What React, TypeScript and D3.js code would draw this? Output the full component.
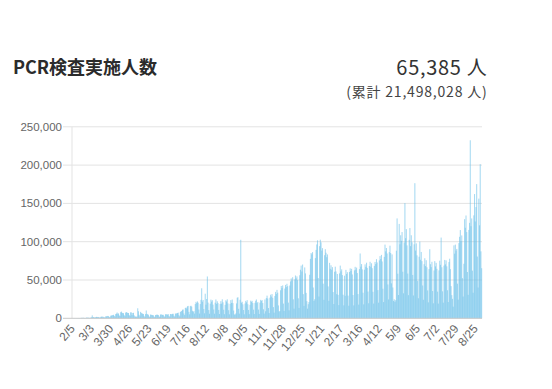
import React from "react";
import * as d3 from "d3";

// daily PCR tests, in thousands of people
const feb2020 = [0.1, 0.1, 0.2, 0.1, 0.1, 0.2, 0.2, 0.3, 0.2, 0.4, 0.3, 0.2, 0.5, 0.6, 0.5, 0.7, 0.6, 0.4, 0.3, 0.5, 0.9, 0.8, 0.9, 0.7, 0.5];
const mar2020 = [0.6, 0.9, 1.2, 3.8, 1.6, 1.5, 1.0, 0.8, 1.7, 1.9, 1.6, 1.8, 1.5, 1.0, 0.8, 1.9, 2.1, 2.0, 2.2, 1.4, 1.2, 1.1, 2.6, 2.4, 2.8, 3.1, 2.7, 1.5, 1.3, 3.4, 3.6];
const apr2020 = [3.9, 4.2, 4.6, 3.1, 2.2, 5.5, 6.1, 7.6, 5.9, 6.4, 3.8, 2.9, 7.9, 8.8, 7.2, 6.8, 6.6, 4.1, 2.8, 7.4, 8.1, 7.5, 7.0, 6.9, 4.4, 3.0, 7.8, 7.6, 4.2, 6.9];
const may2020 = [7.2, 3.9, 2.4, 2.2, 2.0, 2.3, 13.1, 9.2, 4.6, 2.5, 8.4, 7.1, 6.3, 6.0, 5.6, 3.2, 1.8, 5.5, 10.2, 5.8, 5.1, 4.6, 2.6, 1.6, 4.9, 4.6, 4.4, 4.1, 3.9, 2.3, 1.5];
const jun2020 = [4.2, 4.5, 4.8, 4.6, 4.3, 2.6, 1.7, 4.9, 5.1, 4.7, 4.4, 4.6, 2.8, 1.9, 5.2, 5.3, 5.0, 4.8, 5.4, 3.1, 2.0, 5.6, 5.5, 5.1, 5.8, 5.9, 3.4, 2.2, 6.1, 6.3];
const jul2020 = [6.5, 6.8, 7.4, 4.1, 2.6, 8.2, 9.1, 9.6, 11.2, 11.5, 6.3, 4.2, 13.4, 14.1, 12.8, 15.6, 16.2, 8.4, 5.2, 15.8, 16.4, 15.2, 9.8, 8.1, 9.5, 6.1, 18.6, 21.5, 19.8, 22.1, 20.4];
const aug2020 = [11.4, 6.2, 18.6, 24.1, 39.2, 21.8, 23.9, 12.1, 6.5, 32.1, 17.8, 25.2, 54.6, 20.5, 10.8, 5.9, 19.1, 24.4, 21.8, 23.6, 17.9, 11.5, 6.0, 20.4, 24.6, 18.9, 22.2, 19.8, 10.9, 5.6, 18.7];
const sep2020 = [22.4, 19.1, 24.8, 20.9, 11.2, 5.4, 17.6, 23.5, 21.9, 24.8, 19.4, 10.6, 5.2, 18.9, 23.7, 20.1, 24.5, 19.8, 10.1, 5.0, 4.8, 6.3, 19.4, 26.8, 27.5, 12.4, 6.1, 24.2, 102.5, 20.3];
const oct2020 = [21.6, 18.2, 10.8, 5.3, 19.3, 22.8, 20.9, 23.7, 18.4, 10.9, 5.4, 17.6, 23.1, 21.4, 22.8, 19.9, 11.3, 5.6, 20.2, 22.9, 24.6, 19.8, 21.3, 11.4, 5.7, 20.4, 24.1, 22.6, 23.8, 19.9, 11.8];
const nov2020 = [6.1, 24.6, 9.2, 26.4, 29.6, 25.9, 13.4, 6.8, 26.9, 30.8, 28.4, 31.6, 26.7, 14.6, 7.4, 29.2, 34.5, 31.8, 37.1, 33.4, 16.8, 8.9, 9.4, 36.6, 42.2, 39.4, 42.9, 19.2, 9.6, 38.8];
const dec2020 = [43.6, 40.8, 45.1, 41.9, 20.5, 10.4, 42.8, 48.2, 52.1, 49.4, 53.6, 24.8, 12.6, 50.8, 55.9, 52.2, 54.7, 49.8, 26.1, 13.5, 56.2, 63.4, 68.8, 61.1, 70.2, 31.5, 16.2, 66.4, 58.6, 33.2, 22.4];
const jan2021 = [12.6, 18.4, 21.2, 56.8, 77.6, 85.2, 83.5, 86.4, 40.2, 22.6, 24.8, 78.6, 89.3, 96.4, 101.8, 52.6, 28.4, 94.2, 102.6, 99.2, 88.4, 91.6, 45.2, 24.1, 82.4, 90.2, 85.6, 79.8, 83.4, 41.6, 22.8];
const feb2021 = [72.4, 64.6, 69.2, 63.4, 66.8, 34.2, 18.6, 60.8, 67.4, 61.2, 31.5, 57.9, 30.6, 17.2, 58.6, 68.8, 61.2, 63.9, 56.4, 30.8, 16.9, 55.6, 29.4, 63.2, 57.8, 60.2, 29.6, 16.4];
const mar2021 = [60.4, 65.2, 61.8, 64.6, 57.2, 30.4, 16.8, 62.6, 67.2, 63.4, 66.2, 59.1, 31.6, 17.8, 64.2, 84.6, 67.4, 70.8, 63.9, 33.4, 18.2, 63.4, 70.4, 67.2, 72.6, 65.8, 34.9, 19.6, 68.2, 73.8, 67.4];
const apr2021 = [71.8, 65.4, 34.6, 19.2, 68.4, 73.6, 70.8, 77.2, 72.9, 36.8, 20.4, 75.6, 81.2, 77.4, 82.8, 74.2, 38.6, 21.2, 80.2, 96.2, 87.4, 91.8, 84.6, 44.2, 24.6, 86.4, 94.8, 85.2, 45.6, 83.4];
const may2021 = [40.2, 22.6, 24.8, 21.4, 23.6, 88.2, 130.4, 58.2, 30.4, 123.2, 96.6, 108.4, 101.2, 112.6, 60.8, 32.6, 98.8, 150.4, 104.6, 116.4, 95.2, 58.4, 30.2, 102.4, 117.8, 94.2, 108.4, 99.2, 56.6, 29.8, 96.6];
const jun2021 = [176.4, 88.4, 97.8, 82.2, 48.6, 26.2, 80.4, 100.2, 76.4, 86.6, 74.6, 42.8, 24.2, 70.6, 78.4, 68.2, 75.8, 66.6, 36.4, 20.8, 64.2, 90.2, 70.6, 66.8, 73.8, 35.6, 19.6, 62.4, 74.6, 67.8];
const jul2021 = [72.4, 64.6, 34.8, 19.2, 62.6, 75.2, 69.8, 105.4, 66.6, 35.2, 20.4, 68.8, 76.2, 70.4, 75.6, 67.8, 36.6, 21.2, 73.4, 77.8, 64.2, 42.0, 30.2, 25.4, 15.2, 95.2, 84.4, 96.2, 88.4, 90.6, 45.2];
const aug2021 = [24.4, 98.2, 106.4, 115.2, 100.6, 108.2, 52.4, 28.4, 71.2, 129.4, 118.2, 134.2, 112.6, 60.4, 30.6, 115.4, 124.6, 232.4, 120.2, 130.4, 62.2, 33.4, 134.4, 162.2, 126.4, 145.2, 175.2, 80.6, 40.2, 156.2, 121.4];
const sep2021 = [201.2, 87.4, 65.385];

const tickLabels = ["2/5", "3/3", "3/30", "4/26", "5/23", "6/19", "7/16", "8/12", "9/8", "10/5", "11/1", "11/28", "12/25", "1/21", "2/17", "3/16", "4/12", "5/9", "6/5", "7/2", "7/29", "8/25"];
const tickStep = 27; // days between shown labels
const yTicks = [0, 50000, 100000, 150000, 200000, 250000];

const title = "PCR検査実施人数";
const latest = "65,385 人";
const total = "(累計 21,498,028 人)";

const daily = [
  ...feb2020, ...mar2020, ...apr2020, ...may2020, ...jun2020, ...jul2020,
  ...aug2020, ...sep2020, ...oct2020, ...nov2020, ...dec2020,
  ...jan2021, ...feb2021, ...mar2021, ...apr2021, ...may2021, ...jun2021,
  ...jul2021, ...aug2021, ...sep2021,
].map((k) => Math.round(k * 1000));

const W = 552;
const H = 389;
const margin = { left: 72, right: 70, top: 126.8, bottom: 70.7 };

export default function App() {
  const x = d3
    .scaleBand<number>()
    .domain(d3.range(daily.length))
    .range([margin.left, W - margin.right])
    .padding(0);
  const y = d3
    .scaleLinear()
    .domain([0, 250000])
    .range([H - margin.bottom, margin.top]);
  const bw = x.bandwidth();
  const fmt = d3.format(",");
  const axisFont = "'Liberation Sans', Arial, sans-serif";
  const jpFont = "'Noto Sans CJK JP', 'Noto Sans', sans-serif";

  return (
    <div style={{ position: "absolute", left: 0, top: 0 }}>
      <svg width={W} height={H} style={{ display: "block", background: "#fff" }}>
        <text x={13} y={74} fontFamily={jpFont} fontWeight={700} fontSize={18} fill="#2b2b2b">
          {title}
        </text>
        <text x={487.5} y={75} textAnchor="end" fontFamily={jpFont} fontWeight={400} fontSize={20} letterSpacing={0.7} fill="#333">
          {latest}
        </text>
        <text x={487.5} y={96.5} textAnchor="end" fontFamily={jpFont} fontSize={14} letterSpacing={0.8} fill="#444">
          {total}
        </text>

        {yTicks.map((t) => (
          <g key={t}>
            {t > 0 && (
              <line x1={63} x2={W - margin.right} y1={y(t)} y2={y(t)} stroke="#e3e3e3" strokeWidth={1} />
            )}
            <text x={62} y={y(t)} dy="0.35em" textAnchor="end" fontFamily={axisFont} fontSize={11.5} fill="#666">
              {fmt(t)}
            </text>
          </g>
        ))}
        <line x1={margin.left} x2={margin.left} y1={y(250000)} y2={y(0)} stroke="#e3e3e3" />

        <g>
          {daily.map((v, i) => (
            <rect
              key={i}
              x={(x(i) as number) + bw / 2 - bw * 0.75}
              y={y(v)}
              width={bw * 1.5}
              height={y(0) - y(v)}
              fill="rgb(105,192,232)"
              fillOpacity={0.58}
            />
          ))}
        </g>
        <line x1={63} x2={W - margin.right} y1={y(0)} y2={y(0)} stroke="#c8c8c8" />

        {tickLabels.map((lab, k) => {
          const cx = (x(k * tickStep) as number) + bw / 2;
          return (
            <text
              key={lab + k}
              transform={`translate(${cx},${y(0) + 8}) rotate(-50)`}
              dy="0.35em"
              textAnchor="end"
              fontFamily={axisFont}
              fontSize={12}
              fill="#666"
            >
              {lab}
            </text>
          );
        })}
      </svg>
    </div>
  );
}
